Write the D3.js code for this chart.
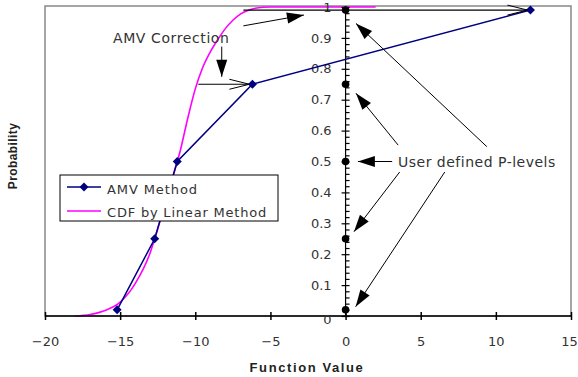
<!DOCTYPE html>
<html>
<head>
<meta charset="utf-8">
<script src="https://cdn.jsdelivr.net/npm/d3@7"></script>
<style>
  body { margin: 0; background: #fff; }
  text { font-family: "DejaVu Sans", sans-serif; fill: #333; }
  .title { font-family: "Liberation Sans", Arial, sans-serif; font-weight: bold; fill: #222; }
</style>
</head>
<body>
<svg width="578" height="377"></svg>
<script>
// AMV method points at the user defined p-levels
var pLevels = [0.02, 0.25, 0.5, 0.75, 0.99];
var amvX = [-15.2, -12.7, -11.2, -6.2, 12.3];

// CDF by linear method
var cdfX = [-18, -17, -16, -15, -14, -13, -12.7, -12, -11.5, -11, -10.5, -10, -9.5, -9, -8.5, -8, -7.5, -7, -6.5, -6, -5.5, -5, 2];
var cdfP = [0, 0.005, 0.018, 0.045, 0.105, 0.205, 0.25, 0.365, 0.45, 0.535, 0.64, 0.735, 0.805, 0.855, 0.895, 0.93, 0.957, 0.977, 0.989, 0.996, 0.999, 1, 1];

// AMV correction lines: cdf x -> amv x at two levels
var corrP = [0.75, 0.99];
var corrFrom = [-9.8, -6.8];
var corrTo = [-6.2, 12.3];

// pointer arrows from the labels (data units)
var pArrowFrom = [[9.4, 0.548], [3.5, 0.553], [3.1, 0.5], [3.6, 0.466], [6.6, 0.466]];
var pArrowTo = [[0.69, 0.947], [0.69, 0.721], [0.82, 0.5], [0.56, 0.273], [0.67, 0.03]];
var corrArrowFrom = [[-6.8, 0.939], [-8.24, 0.872]];
var corrArrowTo = [[-2.77, 0.974], [-8.24, 0.774]];

var xTicks = [-20, -15, -10, -5, 0, 5, 10, 15];
var yTicks = d3.range(0, 1.001, 0.1);
var yMinor = d3.range(0, 1.001, 0.02);

var svg = d3.select("svg");

var x = d3.scaleLinear().domain([-20, 15]).range([45, 571]);
var y = d3.scaleLinear().domain([0, 1]).range([316, 7]);

// plot frame
svg.append("rect")
    .attr("x", x(-20)).attr("y", 6)
    .attr("width", x(15) - x(-20)).attr("height", y(0) - 6)
    .attr("fill", "none").attr("stroke", "#888").attr("stroke-width", 1.5);

var defs = svg.append("defs");
defs.append("marker")
    .attr("id", "head").attr("markerUnits", "userSpaceOnUse")
    .attr("viewBox", "-18 -6 20 12").attr("refX", 0).attr("refY", 0)
    .attr("markerWidth", 20).attr("markerHeight", 12).attr("orient", "auto")
  .append("path").attr("d", "M0,0L-17,-5.5L-17,5.5Z").attr("fill", "#000");
defs.append("marker")
    .attr("id", "open").attr("markerUnits", "userSpaceOnUse")
    .attr("viewBox", "-22 -7 24 14").attr("refX", 0).attr("refY", 0)
    .attr("markerWidth", 24).attr("markerHeight", 14).attr("orient", "auto")
  .append("path").attr("d", "M-20,-5L0,0L-20,5").attr("fill", "none").attr("stroke", "#000").attr("stroke-width", 1);

// CDF curve
var cdf = d3.zip(cdfX, cdfP);
svg.append("path")
    .datum(cdf)
    .attr("fill", "none").attr("stroke", "#ff00ff").attr("stroke-width", 1.6)
    .attr("d", d3.line().x(function(d) { return x(d[0]); }).y(function(d) { return y(d[1]); }).curve(d3.curveMonotoneX));

// x axis
var xAxisG = svg.append("g").attr("transform", "translate(0," + y(0) + ")");
xAxisG.append("line").attr("x1", x(-20)).attr("x2", x(15)).attr("stroke", "#000").attr("stroke-width", 1.5);
xAxisG.call(d3.axisBottom(x).tickValues(xTicks).tickSize(4).tickPadding(17).tickFormat(d3.format("d")));
xAxisG.append("g").call(d3.axisTop(x).tickValues(xTicks).tickSize(4).tickFormat(""));
xAxisG.selectAll(".domain").remove();
xAxisG.selectAll("line").attr("stroke", "#000").attr("stroke-width", 1.5);
xAxisG.selectAll("text").style("font-family", "DejaVu Sans").style("font-size", "13px").attr("fill", "#333");
xAxisG.selectAll(".tick text").filter(function(d) { return d === 15; }).attr("dx", "-2px");

// y axis at x = 0
var yAxisG = svg.append("g").attr("transform", "translate(" + x(0) + ",0)");
yAxisG.append("line").attr("y1", y(0)).attr("y2", y(1)).attr("stroke", "#000").attr("stroke-width", 1.5);
yAxisG.call(d3.axisLeft(y).tickValues(yTicks).tickSize(4).tickPadding(10)
    .tickFormat(function(d) { return d3.format(".1~f")(d); }));
yAxisG.append("g").call(d3.axisRight(y).tickValues(yMinor).tickSize(4).tickFormat(""));
yAxisG.selectAll(".domain").remove();
yAxisG.selectAll("line").attr("stroke", "#000").attr("stroke-width", 1.2);
yAxisG.selectAll("text").style("font-family", "DejaVu Sans").style("font-size", "13px").attr("fill", "#333");
yAxisG.selectAll(".tick text").filter(function(d) { return d === 0; }).attr("dy", "0.55em");

// AMV line and diamonds
var amv = d3.zip(amvX, pLevels);
svg.append("path")
    .datum(amv)
    .attr("fill", "none").attr("stroke", "#000080").attr("stroke-width", 1.5)
    .attr("d", d3.line().x(function(d) { return x(d[0]); }).y(function(d) { return y(d[1]); }));
var diamond = d3.symbol().type(d3.symbolDiamond2).size(52);
svg.selectAll(".amv")
  .data(amv)
  .enter().append("path")
    .attr("class", "amv")
    .attr("transform", function(d) { return "translate(" + x(d[0]) + "," + y(d[1]) + ")"; })
    .attr("d", diamond)
    .attr("fill", "#000080");

// user defined p-level dots on the axis
svg.selectAll(".pdot")
  .data(pLevels)
  .enter().append("circle")
    .attr("class", "pdot")
    .attr("cx", x(0)).attr("cy", function(d) { return y(d); })
    .attr("r", 3.8).attr("fill", "#000");

// AMV correction horizontal lines
svg.selectAll(".corr")
  .data(corrP)
  .enter().append("line")
    .attr("class", "corr")
    .attr("x1", function(d, i) { return x(corrFrom[i]); })
    .attr("x2", function(d, i) { return x(corrTo[i]) - 3; })
    .attr("y1", function(d) { return y(d); })
    .attr("y2", function(d) { return y(d); })
    .attr("stroke", "#000").attr("stroke-width", 1.1)
    .attr("marker-end", "url(#open)");

// filled arrows
function arrows(from, to, cls) {
  svg.selectAll("." + cls)
    .data(from)
    .enter().append("line")
      .attr("class", cls)
      .attr("x1", function(d) { return x(d[0]); })
      .attr("y1", function(d) { return y(d[1]); })
      .attr("x2", function(d, i) { return x(to[i][0]); })
      .attr("y2", function(d, i) { return y(to[i][1]); })
      .attr("stroke", "#000").attr("stroke-width", 1)
      .attr("marker-end", "url(#head)");
}
arrows(corrArrowFrom, corrArrowTo, "carrow");
arrows(pArrowFrom, pArrowTo, "parrow");

// annotation texts
svg.append("text")
    .attr("x", 113).attr("y", 43)
    .style("font-size", "14px").style("letter-spacing", "0.6px")
    .text("AMV Correction");
svg.append("text")
    .attr("x", 398).attr("y", 167)
    .style("font-size", "14px").style("letter-spacing", "0.5px")
    .text("User defined P-levels");

// legend
var lg = svg.append("g");
lg.append("rect").attr("x", 60).attr("y", 175).attr("width", 218).attr("height", 46)
    .attr("fill", "#fff").attr("stroke", "#000").attr("stroke-width", 1);
lg.append("line").attr("x1", 67).attr("x2", 101).attr("y1", 187).attr("y2", 187)
    .attr("stroke", "#000080").attr("stroke-width", 1.5);
lg.append("path").attr("transform", "translate(84,187)").attr("d", diamond).attr("fill", "#000080");
lg.append("line").attr("x1", 67).attr("x2", 101).attr("y1", 211).attr("y2", 211)
    .attr("stroke", "#ff00ff").attr("stroke-width", 1.6);
lg.append("text").attr("x", 107).attr("y", 194)
    .style("font-size", "13px").style("letter-spacing", "0.9px").text("AMV Method");
lg.append("text").attr("x", 107).attr("y", 217)
    .style("font-size", "13px").style("letter-spacing", "0.8px").text("CDF by Linear Method");

// axis titles
svg.append("text").attr("class", "title")
    .attr("x", 307).attr("y", 372).attr("text-anchor", "middle")
    .style("font-size", "13px").style("letter-spacing", "1.6px")
    .text("Function Value");
svg.append("text").attr("class", "title")
    .attr("transform", "translate(17,156) rotate(-90)").attr("text-anchor", "middle")
    .style("font-size", "12px").style("letter-spacing", "0.4px")
    .text("Probability");
</script>
</body>
</html>
